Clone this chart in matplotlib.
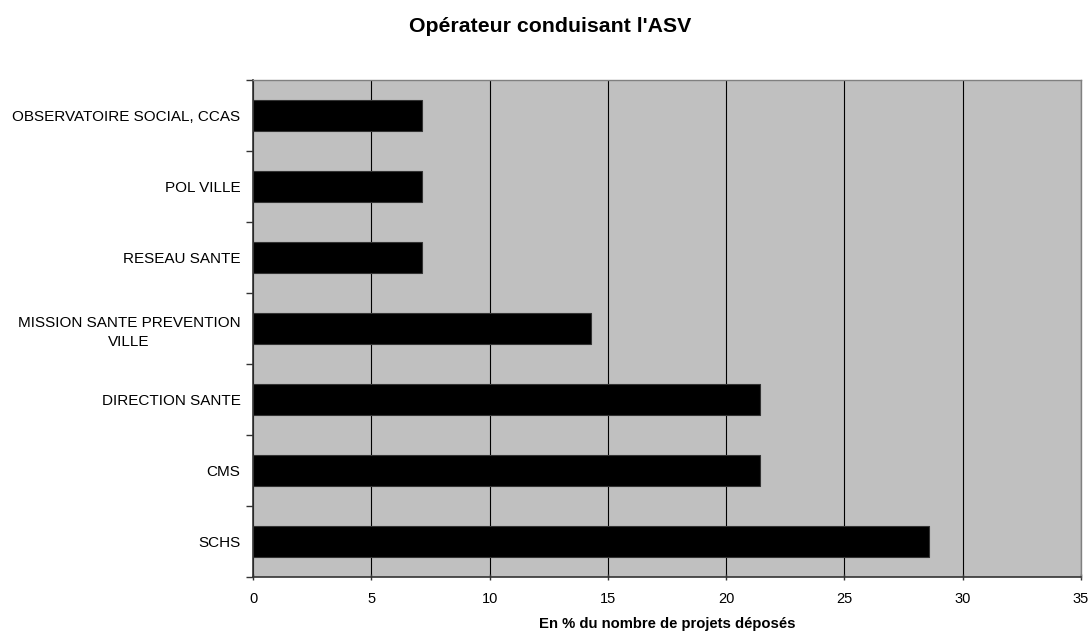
import matplotlib.pyplot as plt
import numpy as np

plt.rcParams['font.family'] = ['Liberation Sans', 'DejaVu Sans']

categories = ['SCHS', 'CMS', 'DIRECTION SANTE', 'MISSION SANTE PREVENTION\nVILLE',
              'RESEAU SANTE', 'POL VILLE', 'OBSERVATOIRE SOCIAL, CCAS']
values = [28.57, 21.43, 21.43, 14.29, 7.14, 7.14, 7.14]
xticks = [0, 5, 10, 15, 20, 25, 30, 35]

fig = plt.figure(figsize=(10.9, 6.34), dpi=100)
ax = fig.add_axes([253 / 1090, 1 - 577 / 634, 828 / 1090, 497 / 634])
ax.set_facecolor('#c0c0c0')

y = np.arange(len(categories))
ax.barh(y, values, height=0.435, color='black', edgecolor='#333333', linewidth=0.8, zorder=3)

ax.set_xlim(0, 35)
ax.set_ylim(-0.5, len(categories) - 0.5)
ax.set_xticks(xticks)
ax.set_xticklabels([str(t) for t in xticks], fontsize=10.5)
ax.xaxis.grid(True, color='black', linewidth=0.8, zorder=1)
ax.set_axisbelow(True)

ax.set_yticks(y)
ax.set_yticklabels(categories, fontsize=11, ha='right', multialignment='center',
                   linespacing=1.45)
ax.set_yticks(np.arange(-0.5, len(categories)), minor=True)
ax.tick_params(axis='y', which='major', length=0, pad=9)
ax.tick_params(axis='y', which='minor', length=5, width=1, color='#333333')
ax.tick_params(axis='x', length=5, width=1, color='#333333', direction='inout', pad=8)

for s in ['left', 'bottom']:
    ax.spines[s].set_color('#333333')
    ax.spines[s].set_linewidth(1.2)
for s in ['top', 'right']:
    ax.spines[s].set_color('#808080')
    ax.spines[s].set_linewidth(1.0)

ax.set_xlabel('En % du nombre de projets déposés', fontsize=10.7, fontweight='bold', labelpad=8)
fig.text(550 / 1090, 1 - 26 / 634, "Opérateur conduisant l'ASV", fontsize=15.3,
         fontweight='bold', ha='center', va='center')

fig.savefig('out.png', dpi=100, facecolor='white')
